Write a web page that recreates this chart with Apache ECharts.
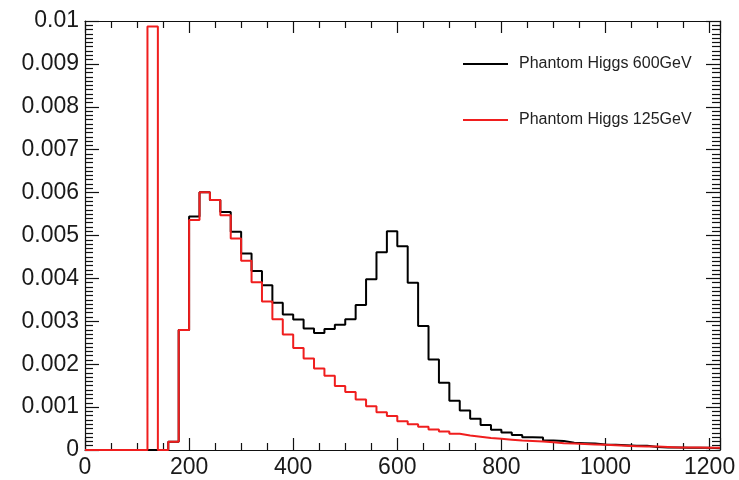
<!DOCTYPE html>
<html>
<head>
<meta charset="utf-8">
<script src="https://cdn.jsdelivr.net/npm/echarts@6/dist/echarts.min.js"></script>
<style>
html,body{margin:0;padding:0;background:#fff;}
#chart{width:739px;height:480px;}
</style>
</head>
<body>
<div id="chart"></div>
<script>
// Histogram bins: 20 GeV wide, starting at 0 GeV
var binWidth = 20;
var binStart = 0;
var xTickLabels = ['0','200','400','600','800','1000','1200'];
var yTickLabels = ['0','0.001','0.002','0.003','0.004','0.005','0.006','0.007','0.008','0.009','0.01'];
var seriesNames = ['Phantom Higgs 600GeV', 'Phantom Higgs 125GeV'];

// Phantom Higgs 600 GeV (black), bin contents
var higgs600 = [
  0, 0, 0, 0, 0, 0, 0, 0, 0.00019, 0.00280,
  0.00544, 0.00601, 0.00583, 0.00555, 0.00509, 0.00458, 0.00417, 0.00384, 0.00343, 0.00316,
  0.00304, 0.00283, 0.00273, 0.00282, 0.00292, 0.00305, 0.00338, 0.00398, 0.00461, 0.00510,
  0.00475, 0.00390, 0.00289, 0.00211, 0.00157, 0.00115, 0.00092, 0.00073, 0.00058, 0.00047,
  0.00041, 0.00035, 0.00030, 0.00029, 0.00022, 0.00021, 0.00017, 0.00016, 0.00015, 0.00013,
  0.00012, 0.00011, 0.00010, 0.00010, 0.00007, 0.00006, 0.00006, 0.00005, 0.00005, 0.00005,
  0.00004
];

// Phantom Higgs 125 GeV (red), bin contents
var higgs125 = [
  0, 0, 0, 0, 0, 0, 0.00987, 0, 0.00019, 0.00280,
  0.00536, 0.00601, 0.00583, 0.00547, 0.00493, 0.00441, 0.00391, 0.00346, 0.00305, 0.00269,
  0.00238, 0.00213, 0.00190, 0.00173, 0.00149, 0.00135, 0.00118, 0.00102, 0.00088, 0.00079,
  0.00067, 0.00060, 0.00054, 0.00048, 0.00043, 0.00038, 0.00034, 0.00031, 0.00028, 0.00026,
  0.00024, 0.00022, 0.00021, 0.00020, 0.00018, 0.00016, 0.00015, 0.00014, 0.00013, 0.00012,
  0.00011, 0.00010, 0.00009, 0.00008, 0.00008, 0.00007, 0.00006, 0.00006, 0.00006, 0.00005,
  0.00005
];

function toSteps(vals) {
  var pts = [];
  for (var i = 0; i < vals.length; i++) {
    pts.push([binStart + i * binWidth, vals[i]]);
  }
  pts.push([binStart + vals.length * binWidth, vals[vals.length - 1]]);
  return pts;
}
var xMax = binStart + higgs600.length * binWidth;

var FONT = 'Liberation Sans, Arial, Helvetica, sans-serif';
var chart = echarts.init(document.getElementById('chart'), null, {renderer: 'canvas'});

function xLabel(v) {
  var s = String(Math.round(v));
  return xTickLabels.indexOf(s) >= 0 ? s : '';
}
function yLabel(v) {
  var s = String(+v.toFixed(4));
  return yTickLabels.indexOf(s) >= 0 ? s : '';
}

var axisLine = {show: true, onZero: false, lineStyle: {color: '#111', width: 1.2}};

chart.setOption({
  animation: false,
  backgroundColor: '#fff',
  grid: {left: 85, right: 19, top: 21, bottom: 30},
  legend: {
    orient: 'vertical',
    left: 458,
    top: 49,
    icon: 'rect',
    itemWidth: 45,
    itemHeight: 2,
    itemGap: 36,
    data: seriesNames,
    textStyle: {fontFamily: FONT, fontSize: 16, color: '#222', lineHeight: 20, height: 20, padding: [0, 0, 0, 6]}
  },
  xAxis: [{
    type: 'value', min: 0, max: xMax, interval: 200, position: 'bottom',
    axisLine: axisLine,
    axisTick: {show: true, inside: true, length: 12, lineStyle: {color: '#111', width: 1.2}},
    minorTick: {show: true, splitNumber: 4, length: 7, lineStyle: {color: '#111', width: 1.2}},
    splitLine: {show: false},
    axisLabel: {formatter: xLabel, fontFamily: FONT, fontSize: 23, color: '#1a1a1a', margin: 6, showMaxLabel: true}
  }, {
    type: 'value', min: 0, max: xMax, interval: 200, position: 'top',
    axisLine: axisLine,
    axisTick: {show: true, inside: true, length: 12, lineStyle: {color: '#111', width: 1.2}},
    minorTick: {show: true, splitNumber: 4, length: 7, lineStyle: {color: '#111', width: 1.2}},
    splitLine: {show: false},
    axisLabel: {show: false}
  }],
  yAxis: [{
    type: 'value', min: 0, max: 0.01, interval: 0.001, position: 'left',
    axisLine: axisLine,
    axisTick: {show: true, inside: true, length: 14, lineStyle: {color: '#111', width: 1.2}},
    minorTick: {show: true, splitNumber: 10, length: 8, lineStyle: {color: '#111', width: 1.2}},
    splitLine: {show: false},
    axisLabel: {formatter: yLabel, fontFamily: FONT, fontSize: 23, color: '#1a1a1a', margin: 6}
  }, {
    type: 'value', min: 0, max: 0.01, interval: 0.001, position: 'right',
    axisLine: axisLine,
    axisTick: {show: true, inside: true, length: 14, lineStyle: {color: '#111', width: 1.2}},
    minorTick: {show: true, splitNumber: 10, length: 8, lineStyle: {color: '#111', width: 1.2}},
    splitLine: {show: false},
    axisLabel: {show: false}
  }],
  series: [{
    name: seriesNames[0],
    type: 'line', step: 'end', symbol: 'none',
    xAxisIndex: 0, yAxisIndex: 0,
    data: toSteps(higgs600),
    lineStyle: {color: '#000', width: 2},
    itemStyle: {color: '#000'},
    z: 2
  }, {
    name: seriesNames[1],
    type: 'line', step: 'end', symbol: 'none',
    xAxisIndex: 0, yAxisIndex: 0,
    data: toSteps(higgs125),
    lineStyle: {color: '#f01e1e', width: 2},
    itemStyle: {color: '#f01e1e'},
    z: 3
  }]
});
</script>
</body>
</html>
